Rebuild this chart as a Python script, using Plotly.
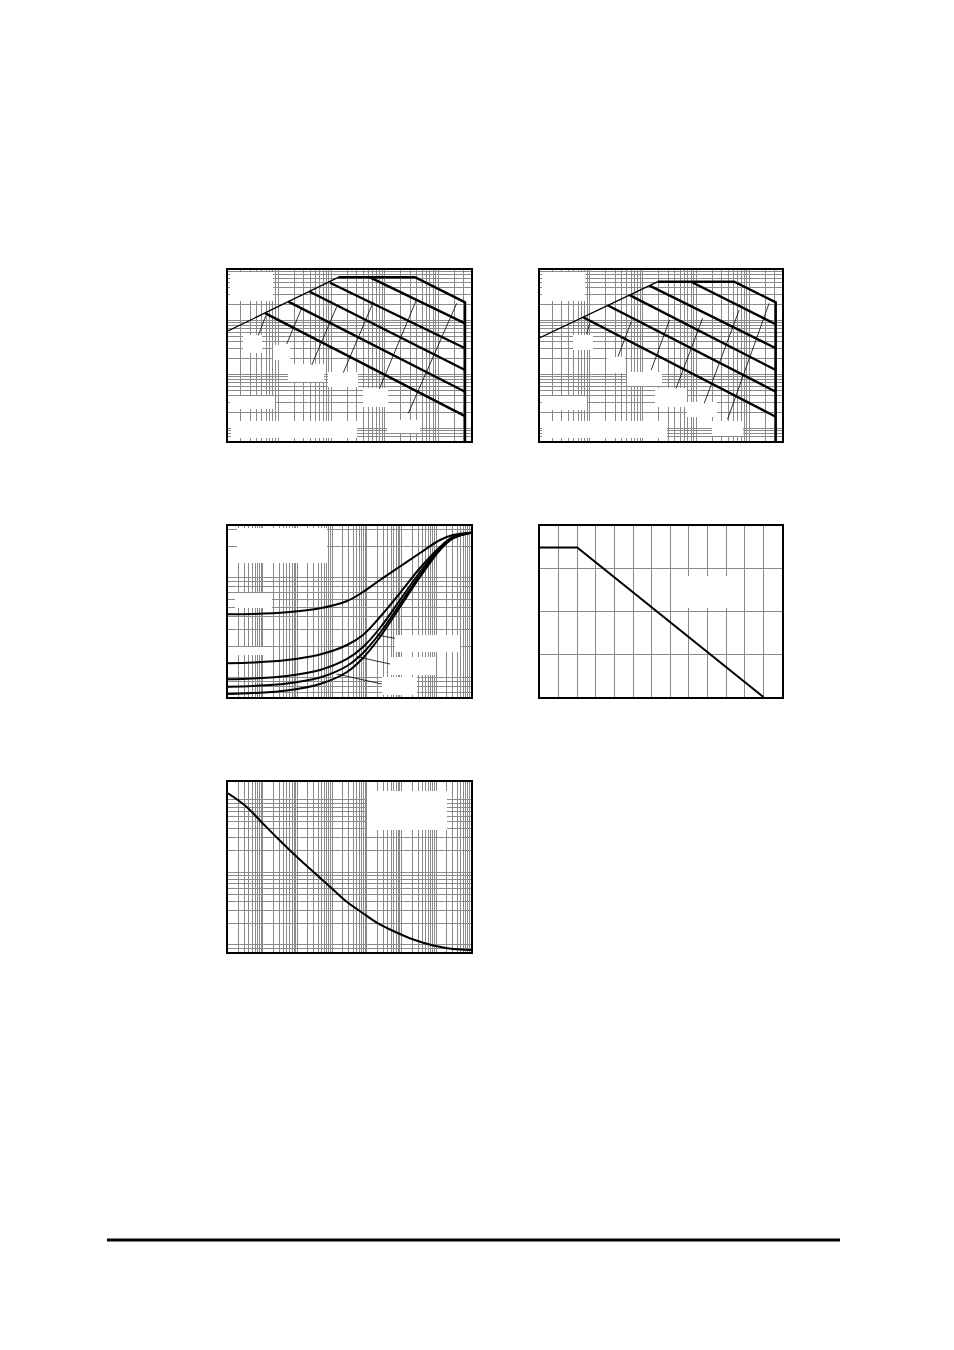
import math
import plotly.graph_objects as go

OFF = 8                      # default page margin of the html body
W, H = 954 - OFF, 1350 - OFF

# ---------------- data ----------------
# Chart 1 : safe operating area (a)  VDS [V] vs ID [A]
soa1_rds_v = [0.01158, 1.346]
soa1_rds_i = [6.39, 63.1]
soa1_lim_v = [1.346, 36.8, 318, 318]
soa1_lim_i = [63.1, 63.1, 21.7, 0.03]
soa1_pulse_v0 = [5.28, 0.942, 0.386, 0.156, 0.0571]
soa1_pulse_i0 = [63.1, 50.1, 34.4, 22.3, 13.7]
soa1_pulse_v1 = [318, 318, 318, 318, 318]
soa1_pulse_i1 = [8.87, 3.06, 1.21, 0.48, 0.170]
soa1_lead_v0 = [0.0428, 0.1455, 0.428, 1.67, 7.89, 27.5]
soa1_lead_i0 = [5.28, 3.67, 1.50, 1.08, 0.539, 0.191]
soa1_lead_v1 = [0.0588, 0.278, 1.257, 6.09, 39.5, 222]
soa1_lead_i1 = [12.12, 17.04, 18.0, 22.0, 24.7, 20.8]

# Chart 2 : safe operating area (b)
soa2_rds_v = [0.01158, 1.90]
soa2_rds_i = [4.80, 52.3]
soa2_lim_v = [1.90, 51.9, 313.6, 313.6]
soa2_lim_i = [52.3, 52.3, 21.7, 0.03]
soa2_pulse_v0 = [8.03, 1.33, 0.561, 0.220, 0.0749]
soa2_pulse_i0 = [52.3, 44.3, 29.5, 19.0, 11.5]
soa2_pulse_v1 = [313.6, 313.6, 313.6, 313.6, 313.6]
soa2_pulse_i1 = [8.51, 3.06, 1.21, 0.48, 0.165]
soa2_lead_v0 = [0.0868, 0.339, 1.43, 4.20, 14.2, 38.9]
soa2_lead_i0 = [5.62, 2.14, 1.21, 0.555, 0.293, 0.148]
soa2_lead_v1 = [0.1, 0.604, 3.15, 13.2, 64.4, 235]
soa2_lead_i1 = [8.87, 9.50, 10.2, 10.98, 15.6, 20.8]

# Chart 3 : transient thermal impedance vs pulse width
t3 = [1e-6, 5.25e-6, 5.01e-5, 4.48e-4, 2.68e-3, 7.74e-3, 0.0239, 0.0902, 0.340, 1.28, 3.03, 10]
zth_a = [0.424, 0.427, 0.444, 0.486, 0.575, 0.708, 0.933, 1.274, 1.738, 2.344, 2.630, 2.773]
zth_b = [0.1371, 0.1396, 0.1479, 0.1679, 0.2089, 0.2630, 0.398, 0.692, 1.230, 1.995, 2.512, 2.773]
zth_c = [0.0948, 0.0966, 0.1023, 0.1175, 0.1514, 0.1995, 0.309, 0.589, 1.122, 1.950, 2.483, 2.773]
zth_d = [0.0800, 0.0813, 0.0861, 0.0989, 0.1288, 0.1738, 0.2754, 0.537, 1.047, 1.905, 2.455, 2.773]
zth_e = [0.0676, 0.0692, 0.0733, 0.0851, 0.1122, 0.1549, 0.2512, 0.501, 1.0, 1.862, 2.427, 2.773]
z3_lead_t0 = [0.01923, 5.10e-3, 1.355e-3]
z3_lead_z0 = [0.263, 0.1596, 0.1072]
z3_lead_t1 = [0.0647, 0.0465, 0.0268]
z3_lead_z1 = [0.2438, 0.1349, 0.0851]

# Chart 4 : derating vs case temperature
tc4 = [0, 25, 150]
pd4 = [70, 70, 0]

# Chart 5 : single pulse power vs pulse width
t5 = [1e-6, 3.09e-6, 1.04e-5, 2.81e-5, 9.53e-5, 2.86e-4, 8.68e-4, 2.63e-3,
      7.91e-3, 0.0192, 0.0578, 0.218, 0.822, 3.10, 10]
p5 = [1237, 839, 467, 290, 165, 102.6, 63.7, 39.5, 27.2, 20.4, 15.6, 11.9, 9.84, 8.81, 8.53]

# ---------------- layout geometry (page pixels) ----------------
boxes = {
    1: (228, 270, 471, 441),
    2: (540, 270, 782, 441),
    3: (228, 526, 471, 697),
    4: (540, 526, 782, 697),
    5: (228, 782, 471, 952),
}
ranges = {
    1: ("log", [-1.9363, 2.6142], "log", [-1.2315, 1.9352]),
    2: ("log", [-1.9363, 2.6142], "log", [-1.2315, 1.9352]),
    3: ("log", [-6.0, 1.0], "log", [-1.20, 0.51]),
    4: ("linear", [0, 162.5], "linear", [0, 80]),
    5: ("log", [-6.0, 1.0], "log", [0.903, 3.248]),
}
masks = {
    1: [(230, 272, 273, 301), (243, 335, 262, 353), (273, 345, 290, 360), (288, 364, 324, 382),
        (328, 372, 358, 387), (363, 388, 388, 407), (230, 396, 275, 409), (231, 421, 357, 438),
        (387, 420, 420, 433)],
    2: [(542, 272, 585, 301), (573, 335, 593, 350), (607, 357, 625, 373), (627, 372, 662, 386),
        (655, 388, 687, 407), (687, 402, 717, 417), (542, 396, 587, 410), (542, 421, 667, 438),
        (712, 421, 743, 436)],
    3: [(237, 528, 327, 563), (235, 593, 272, 608), (235, 647, 272, 655), (395, 635, 460, 652),
        (390, 657, 435, 675), (382, 677, 417, 695)],
    4: [(685, 576, 730, 608)],
    5: [(367, 791, 447, 830)],
}


def log_ticks(lo, hi):
    vals = []
    for e in range(int(math.floor(lo)) - 1, int(math.ceil(hi)) + 1):
        for m in range(1, 10):
            v = m * 10.0 ** e
            lv = math.log10(v)
            if lo + 1e-6 < lv < hi - 1e-6:
                vals.append(v)
    return vals


def px_to_data(k, px, py):
    x0, y0, x1, y1 = boxes[k]
    xt, xr, yt, yr = ranges[k]
    fx = (px - x0) / (x1 - x0)
    fy = (y1 - py) / (y1 - y0)
    vx = xr[0] + fx * (xr[1] - xr[0])
    vy = yr[0] + fy * (yr[1] - yr[0])
    if xt == "log":
        vx = 10 ** vx
    if yt == "log":
        vy = 10 ** vy
    return vx, vy


fig = go.Figure()
GRID = "#8a8a8a"
layout = dict(width=W, height=H, margin=dict(l=0, r=0, t=0, b=0),
              paper_bgcolor="white", plot_bgcolor="white", showlegend=False)

for k, (x0, y0, x1, y1) in boxes.items():
    xt, xr, yt, yr = ranges[k]
    xtv = log_ticks(*xr) if xt == "log" else [12.5 * i for i in range(1, 13)]
    ytv = log_ticks(*yr) if yt == "log" else [20, 40, 60]
    sfx = "" if k == 1 else str(k)
    common = dict(showticklabels=False, ticks="", showgrid=True, gridcolor=GRID, gridwidth=1,
                  zeroline=False, showline=True, linecolor="black", linewidth=2, mirror=True,
                  tickmode="array", fixedrange=True)
    layout["xaxis" + sfx] = dict(domain=[(x0 - OFF) / W, (x1 - OFF) / W], type=xt, range=xr,
                                 tickvals=xtv, anchor="y" + sfx, **common)
    layout["yaxis" + sfx] = dict(domain=[1 - (y1 - OFF) / H, 1 - (y0 - OFF) / H], type=yt,
                                 range=yr, tickvals=ytv, anchor="x" + sfx, **common)
    # white boxes where the labels sat (drawn above the grid, below the curves)
    for (mx0, my0, mx1, my1) in masks[k]:
        ax0, ay0 = px_to_data(k, mx0, my1)
        ax1, ay1 = px_to_data(k, mx1, my0)
        fig.add_trace(go.Scatter(x=[ax0, ax1, ax1, ax0, ax0], y=[ay0, ay0, ay1, ay1, ay0],
                                 mode="lines", fill="toself", fillcolor="white",
                                 line=dict(width=0, color="white"),
                                 xaxis="x" + sfx, yaxis="y" + sfx, hoverinfo="skip"))

# footer rule
layout["shapes"] = [dict(type="line", xref="paper", yref="paper", x0=(107 - OFF) / W,
                         x1=(840 - OFF) / W, y0=1 - (1240 - OFF) / H, y1=1 - (1240 - OFF) / H,
                         line=dict(color="black", width=3))]


def add(k, x, y, w, shape="linear"):
    sfx = "" if k == 1 else str(k)
    fig.add_trace(go.Scatter(x=x, y=y, mode="lines", xaxis="x" + sfx, yaxis="y" + sfx,
                             line=dict(color="black", width=w, shape=shape),
                             hoverinfo="skip"))


# SOA charts
for k, rv, ri, lv, li, pv0, pi0, pv1, pi1, dv0, di0, dv1, di1 in [
    (1, soa1_rds_v, soa1_rds_i, soa1_lim_v, soa1_lim_i, soa1_pulse_v0, soa1_pulse_i0,
     soa1_pulse_v1, soa1_pulse_i1, soa1_lead_v0, soa1_lead_i0, soa1_lead_v1, soa1_lead_i1),
    (2, soa2_rds_v, soa2_rds_i, soa2_lim_v, soa2_lim_i, soa2_pulse_v0, soa2_pulse_i0,
     soa2_pulse_v1, soa2_pulse_i1, soa2_lead_v0, soa2_lead_i0, soa2_lead_v1, soa2_lead_i1),
]:
    add(k, rv, ri, 1.3)
    add(k, lv, li, 2.4)
    for a, b, c, d in zip(pv0, pi0, pv1, pi1):
        add(k, [a, c], [b, d], 2.4)
    for a, b, c, d in zip(dv0, di0, dv1, di1):
        add(k, [a, c], [b, d], 0.8)

# Chart 3
for z in (zth_a, zth_b, zth_c, zth_d, zth_e):
    add(3, t3, z, 2, "spline")
for a, b, c, d in zip(z3_lead_t0, z3_lead_z0, z3_lead_t1, z3_lead_z1):
    add(3, [a, c], [b, d], 0.8)

# Chart 4
add(4, tc4, pd4, 2)

# Chart 5
add(5, t5, p5, 2, "spline")

fig.update_layout(**layout)
fig.write_html("out.html")
